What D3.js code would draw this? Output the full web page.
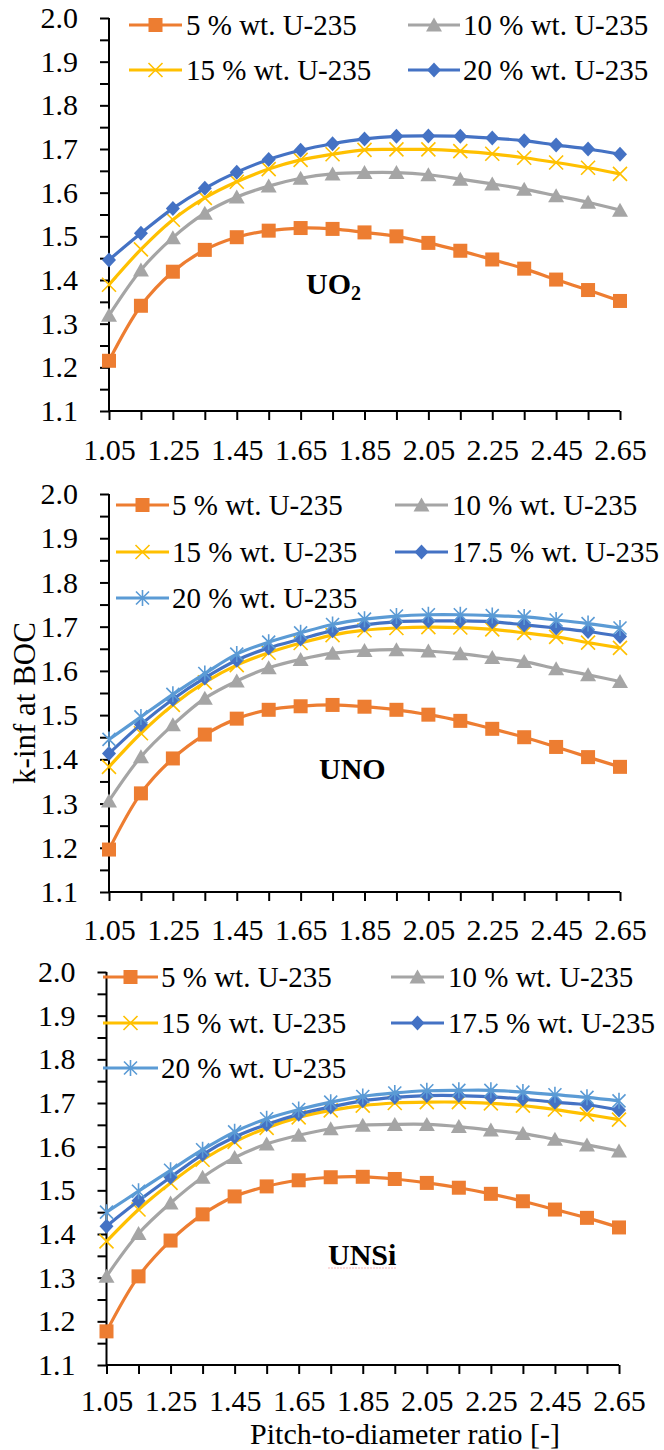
<!DOCTYPE html>
<html><head><meta charset="utf-8">
<script src="https://cdn.jsdelivr.net/npm/d3@7"></script>
<style>
body{margin:0;background:#fff}
svg{display:block}
text{font-family:"Liberation Serif","Times New Roman",serif;fill:#000}
</style>
</head><body>
<svg id="chart" width="664" height="1450"></svg>
<script>
// ---------- DATA ----------
const pitch = [1.05,1.15,1.25,1.35,1.45,1.55,1.65,1.75,1.85,1.95,2.05,2.15,2.25,2.35,2.45,2.55,2.65];
const xTickLabels = ["1.05","1.25","1.45","1.65","1.85","2.05","2.25","2.45","2.65"];
const yTickLabels = ["1.1","1.2","1.3","1.4","1.5","1.6","1.7","1.8","1.9","2.0"];
const seriesNames = ["5 % wt. U-235","10 % wt. U-235","15 % wt. U-235","17.5 % wt. U-235","20 % wt. U-235"];
const panelNames = ["UO2","UNO","UNSi"];

// UO2
const uo2_5   = [1.215,1.341,1.419,1.469,1.498,1.513,1.519,1.517,1.509,1.500,1.485,1.467,1.447,1.426,1.401,1.377,1.352];
const uo2_10  = [1.319,1.423,1.497,1.553,1.590,1.615,1.633,1.643,1.646,1.646,1.641,1.631,1.620,1.608,1.593,1.578,1.560];
const uo2_15  = [1.389,1.470,1.538,1.588,1.625,1.654,1.675,1.688,1.698,1.699,1.699,1.695,1.689,1.680,1.669,1.657,1.643];
const uo2_20  = [1.446,1.507,1.564,1.610,1.647,1.676,1.697,1.712,1.723,1.729,1.730,1.729,1.725,1.719,1.709,1.700,1.688];
// UNO
const uno_5   = [1.196,1.323,1.402,1.456,1.492,1.512,1.520,1.523,1.519,1.512,1.501,1.487,1.469,1.450,1.428,1.405,1.383];
const uno_10  = [1.306,1.406,1.478,1.538,1.577,1.607,1.626,1.640,1.646,1.648,1.645,1.639,1.630,1.621,1.605,1.591,1.576];
const uno_15  = [1.383,1.459,1.523,1.574,1.613,1.641,1.663,1.681,1.692,1.697,1.699,1.698,1.694,1.686,1.677,1.664,1.652];
const uno_175 = [1.413,1.479,1.536,1.584,1.624,1.652,1.672,1.691,1.704,1.711,1.713,1.713,1.711,1.704,1.697,1.689,1.678];
const uno_20  = [1.445,1.496,1.547,1.594,1.638,1.665,1.686,1.705,1.717,1.724,1.727,1.727,1.725,1.722,1.715,1.707,1.697];
// UNSi
const unsi_5   = [1.177,1.303,1.385,1.445,1.486,1.509,1.523,1.530,1.531,1.526,1.517,1.506,1.492,1.475,1.456,1.437,1.415];
const unsi_10  = [1.303,1.401,1.471,1.530,1.575,1.606,1.626,1.641,1.649,1.651,1.651,1.646,1.638,1.630,1.617,1.604,1.590];
const unsi_15  = [1.383,1.456,1.517,1.570,1.611,1.643,1.667,1.683,1.694,1.700,1.702,1.702,1.699,1.694,1.685,1.674,1.662];
const unsi_175 = [1.418,1.476,1.530,1.582,1.622,1.651,1.674,1.691,1.705,1.713,1.717,1.717,1.714,1.709,1.702,1.696,1.684];
const unsi_20  = [1.450,1.498,1.546,1.593,1.634,1.664,1.685,1.702,1.715,1.723,1.728,1.729,1.729,1.725,1.719,1.713,1.705];

// ---------- STYLES ----------
const styles = {
  s5:  {color:"#ED7D31", marker:"square"},
  s10: {color:"#A5A5A5", marker:"triangle"},
  s15: {color:"#FFC000", marker:"cross"},
  s175:{color:"#4472C4", marker:"diamond"},
  s20b:{color:"#4472C4", marker:"diamond"},
  s20: {color:"#5B9BD5", marker:"star"}
};

const panels = [
  {label:panelNames[0], sub:"2", series:[
      {name:seriesNames[0], vals:uo2_5, st:styles.s5},
      {name:seriesNames[1], vals:uo2_10, st:styles.s10},
      {name:seriesNames[2], vals:uo2_15, st:styles.s15},
      {name:seriesNames[4], vals:uo2_20, st:styles.s20b}],
   box:{l:109,r:620,t:18,b:411}, xlab:19,
   leg:{cols:[[129,182,186],[408,460,463]], rows:[25,70]},
   lab:{x:306,y:294}},
  {label:panelNames[1], series:[
      {name:seriesNames[0], vals:uno_5, st:styles.s5},
      {name:seriesNames[1], vals:uno_10, st:styles.s10},
      {name:seriesNames[2], vals:uno_15, st:styles.s15},
      {name:seriesNames[3], vals:uno_175, st:styles.s175},
      {name:seriesNames[4], vals:uno_20, st:styles.s20}],
   box:{l:109,r:620,t:494,b:892}, xlab:18,
   leg:{cols:[[116,169,172],[395,448,452]], rows:[505,552,598]},
   lab:{x:319,y:779}},
  {label:panelNames[2], series:[
      {name:seriesNames[0], vals:unsi_5, st:styles.s5},
      {name:seriesNames[1], vals:unsi_10, st:styles.s10},
      {name:seriesNames[2], vals:unsi_15, st:styles.s15},
      {name:seriesNames[3], vals:unsi_175, st:styles.s175},
      {name:seriesNames[4], vals:unsi_20, st:styles.s20}],
   box:{l:106.5,r:619,t:972,b:1365}, xlab:16,
   leg:{cols:[[103,158,161],[391,444,448]], rows:[977,1023,1068]},
   lab:{x:328,y:1265}, underline:true}
];

const svg = d3.select("#chart");
const FONT = 30;

function drawMarker(g, type, color, x, y){
  if(type==="square"){
    g.append("rect").attr("x",x-7).attr("y",y-7).attr("width",14).attr("height",14).attr("fill",color);
  } else if(type==="triangle"){
    g.append("path").attr("d",`M${x},${y-7.5}L${x+8},${y+6.5}L${x-8},${y+6.5}Z`).attr("fill",color);
  } else if(type==="diamond"){
    g.append("path").attr("d",`M${x},${y-7.5}L${x+7},${y}L${x},${y+7.5}L${x-7},${y}Z`).attr("fill",color);
  } else if(type==="cross"){
    g.append("path").attr("d",`M${x-7},${y-7}L${x+7},${y+7}M${x-7},${y+7}L${x+7},${y-7}`)
      .attr("stroke",color).attr("stroke-width",1.6).attr("fill","none");
  } else if(type==="star"){
    g.append("path").attr("d",`M${x-6.5},${y-6.5}L${x+6.5},${y+6.5}M${x-6.5},${y+6.5}L${x+6.5},${y-6.5}M${x},${y-8}L${x},${y+8}`)
      .attr("stroke",color).attr("stroke-width",1.6).attr("fill","none");
  }
}

const yMinor = d3.range(0,19).map(i => +(1.1 + i*0.05).toFixed(2));

panels.forEach(p => {
  const b = p.box;
  const x = d3.scaleLinear().domain([pitch[0], pitch[pitch.length-1]]).range([b.l, b.r]);
  const y = d3.scaleLinear().domain([+yTickLabels[0], +yTickLabels[yTickLabels.length-1]]).range([b.b, b.t]);
  const g = svg.append("g");

  // axes
  const yAxis = d3.axisLeft(y).tickValues(yMinor).tickSize(9).tickPadding(22)
    .tickFormat(v => { const s = v.toFixed(1); return (Math.abs(v*10 - Math.round(v*10))<1e-6 && yTickLabels.includes(s)) ? s : ""; });
  const ya = g.append("g").attr("transform",`translate(${b.l},0)`).call(yAxis);
  const xAxis = d3.axisBottom(x).tickValues(pitch).tickSize(9).tickPadding(p.xlab)
    .tickFormat(v => { const s = v.toFixed(2); return xTickLabels.includes(s) ? s : ""; });
  const xa = g.append("g").attr("transform",`translate(0,${b.b})`).call(xAxis);
  [ya, xa].forEach(a => {
    a.select(".domain").attr("stroke","#000").attr("stroke-width",2);
    a.selectAll(".tick line").attr("stroke","#000").attr("stroke-width",2);
    a.selectAll("text").attr("font-size",FONT).attr("font-family",'"Liberation Serif","Times New Roman",serif').attr("fill","#000");
  });
  ya.select(".domain").attr("d",`M0,${b.b}V${b.t}`);
  xa.select(".domain").attr("d",`M${b.l},0H${b.r}`);

  // series
  const line = d3.line().x((d,i)=>x(pitch[i])).y(d=>y(d)).curve(d3.curveCatmullRom.alpha(0.5));
  p.series.forEach(s => {
    const sg = g.append("g");
    sg.append("path").attr("d", line(s.vals)).attr("fill","none").attr("stroke", s.st.color).attr("stroke-width",3.2).attr("stroke-linejoin","round");
    s.vals.forEach((v,i) => drawMarker(sg, s.st.marker, s.st.color, x(pitch[i]), y(v)));
  });

  // legend
  p.series.forEach((s,k) => {
    const col = p.leg.cols[k%2], row = p.leg.rows[Math.floor(k/2)];
    const lg = g.append("g");
    lg.append("line").attr("x1",col[0]).attr("x2",col[1]).attr("y1",row).attr("y2",row).attr("stroke",s.st.color).attr("stroke-width",3.2);
    drawMarker(lg, s.st.marker, s.st.color, (col[0]+col[1])/2, row);
    lg.append("text").attr("x",col[2]).attr("y",row+10).attr("font-size",29).text(s.name);
  });

  // panel label
  const t = g.append("text").attr("x",p.lab.x).attr("y",p.lab.y).attr("font-size",30).attr("font-weight","bold");
  if(p.sub){
    t.text(p.label.replace(p.sub,""));
    t.append("tspan").attr("font-size",20).attr("dy",6).text(p.sub);
  } else {
    t.text(p.label);
  }
  if(p.underline){
    const n = t.node().getComputedTextLength();
    g.append("path").attr("d",`M${p.lab.x},${p.lab.y+3}h${n}`).attr("stroke","#f3b6b6").attr("stroke-width",1).attr("stroke-dasharray","2,1");
  }
});

// axis titles
svg.append("text").attr("transform","translate(35,703) rotate(-90)").attr("text-anchor","middle").attr("font-size",31).text("k-inf at BOC");
svg.append("text").attr("x",405).attr("y",1444).attr("text-anchor","middle").attr("font-size",30).text("Pitch-to-diameter ratio [-]");
</script>
</body></html>
